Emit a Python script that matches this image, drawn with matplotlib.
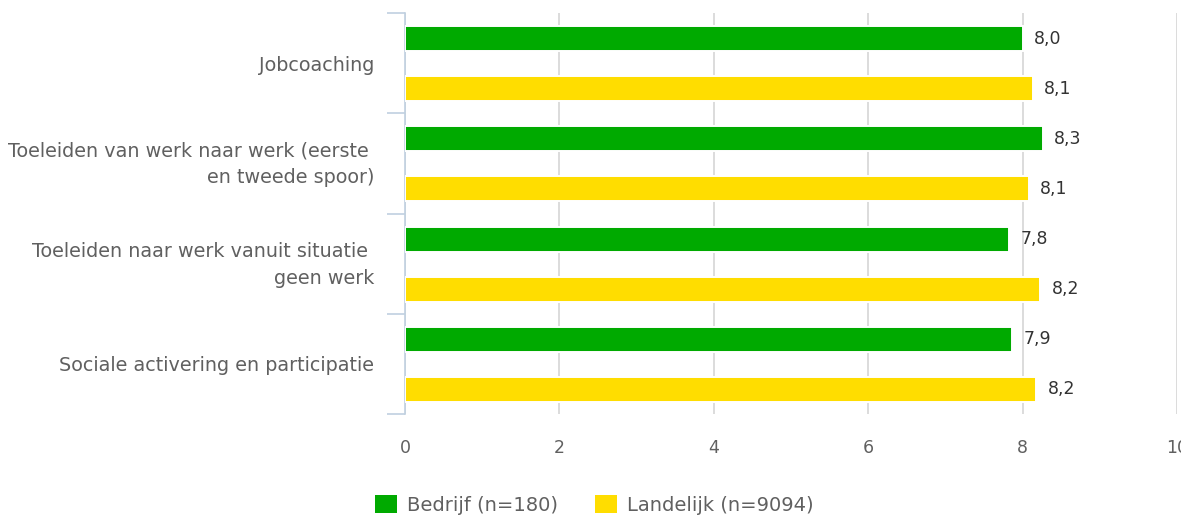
import matplotlib
matplotlib.use("Agg")
import matplotlib.pyplot as plt
import numpy as np
from matplotlib.patches import Patch

categories = [
    "Jobcoaching",
    "Toeleiden van werk naar werk (eerste \nen tweede spoor)",
    "Toeleiden naar werk vanuit situatie \ngeen werk",
    "Sociale activering en participatie",
]
bedrijf = [8.00, 8.26, 7.83, 7.86]
landelijk = [8.13, 8.08, 8.23, 8.18]
series_names = ["Bedrijf (n=180)", "Landelijk (n=9094)"]
x_ticks = [0, 2, 4, 6, 8, 10]

GREEN = "#00aa00"
YELLOW = "#ffdd00"
GRID = "#dcdcdc"
AXIS = "#c0d0e0"
TEXT = "#606060"

plt.rcParams["font.family"] = ["DejaVu Sans"]

fig = plt.figure(figsize=(11.81, 5.17), dpi=100)
ax = fig.add_axes([405 / 1181, 1 - 414 / 517, 772 / 1181, 401 / 517])

y = np.arange(len(categories))
bars_b = ax.barh(y - 0.245, bedrijf, height=0.25, color=GREEN,
                 edgecolor="white", linewidth=1.4, zorder=3)
bars_l = ax.barh(y + 0.255, landelijk, height=0.25, color=YELLOW,
                 edgecolor="white", linewidth=1.4, zorder=3)

for bars, vals in ((bars_b, bedrijf), (bars_l, landelijk)):
    for b, v in zip(bars, vals):
        ax.text(v + 0.15, b.get_y() + b.get_height() / 2,
                f"{v:.1f}".replace(".", ","), va="center", ha="left",
                fontsize=12.5, color="#333333")

ax.set_xlim(0, 10)
ax.set_ylim(len(categories) - 0.5, -0.5)

ax.set_xticks(x_ticks)
ax.set_xticklabels([str(t) for t in x_ticks])
ax.tick_params(axis="x", length=0, pad=18, labelsize=12.5, labelcolor=TEXT)
ax.grid(axis="x", color=GRID, linewidth=1.4, zorder=0)

# category borders as major ticks, names as minor ticks
ax.set_yticks(np.arange(-0.5, len(categories), 1.0))
ax.set_yticklabels([])
ax.tick_params(axis="y", which="major", length=13, width=1.2, color=AXIS)
label_pos = [i - (0.045 if "\n" in c else 0.0) for i, c in enumerate(categories)]
ax.set_yticks(label_pos, minor=True)
ax.set_yticklabels(categories, minor=True, fontsize=13.8, color=TEXT,
                   ha="right", multialignment="right", linespacing=1.5)
ax.tick_params(axis="y", which="minor", length=0, pad=22)

for side in ("top", "right", "bottom"):
    ax.spines[side].set_visible(False)
ax.spines["left"].set_color(AXIS)
ax.spines["left"].set_linewidth(1.2)

handles = [Patch(facecolor=GREEN), Patch(facecolor=YELLOW)]
fig.legend(handles, series_names, loc="center", ncol=2,
           bbox_to_anchor=(0.503, 1 - 505 / 517), frameon=False,
           fontsize=14, labelcolor=TEXT, handlelength=1.15,
           handleheight=1.0, handletextpad=0.5, columnspacing=1.9,
           borderpad=0.2)

fig.savefig("out.png", dpi=100)
